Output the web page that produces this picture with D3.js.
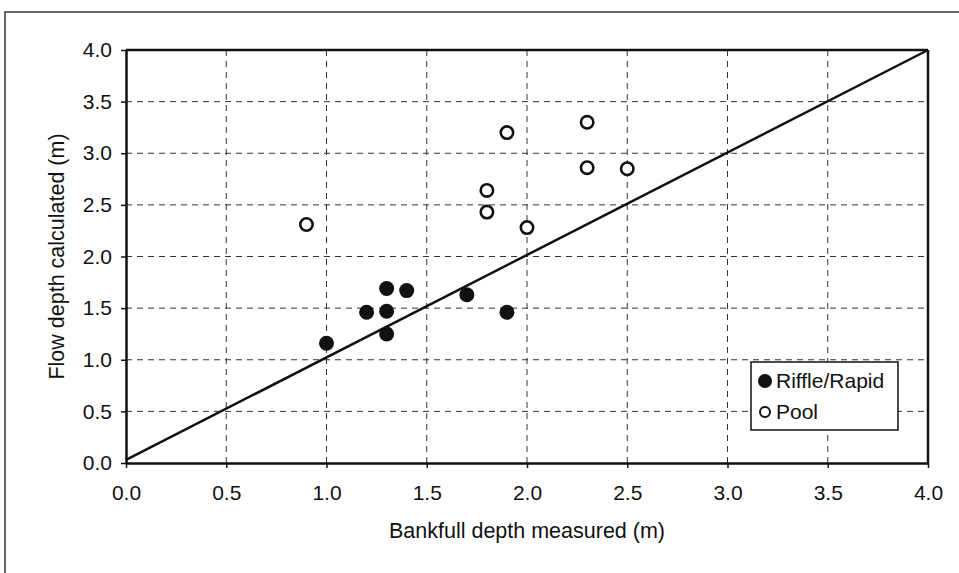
<!DOCTYPE html>
<html><head><meta charset="utf-8">
<script src="https://cdn.jsdelivr.net/npm/d3@7"></script>
<style>body{margin:0;background:#fff;} svg{display:block;font-family:"Liberation Sans",Arial,sans-serif;}</style>
</head><body>
<script>
const riffleX = [1.0, 1.2, 1.3, 1.3, 1.3, 1.4, 1.7, 1.9];
const riffleY = [1.16, 1.46, 1.69, 1.47, 1.25, 1.67, 1.63, 1.46];
const poolX = [0.9, 1.8, 1.8, 1.9, 2.0, 2.3, 2.3, 2.5];
const poolY = [2.31, 2.64, 2.43, 3.20, 2.28, 3.30, 2.86, 2.85];
const lineX = [0.0, 4.0];
const lineY = [0.03, 4.0];
const xTicks = [0, 0.5, 1.0, 1.5, 2.0, 2.5, 3.0, 3.5, 4.0];
const yTicks = [0, 0.5, 1.0, 1.5, 2.0, 2.5, 3.0, 3.5, 4.0];
const seriesNames = ["Riffle/Rapid", "Pool"];
const xTitle = "Bankfull depth measured (m)";
const yTitle = "Flow depth calculated (m)";

const W = 959, H = 573;
const FS = 21;
const TFS = 21.5;
const svg = d3.select("body").append("svg").attr("width", W).attr("height", H);
svg.append("rect").attr("x", 5).attr("y", 12).attr("width", 1000).attr("height", 700)
  .attr("fill", "none").attr("stroke", "#333").attr("stroke-width", 1.5);

const L = 126, R = 928, T = 50, B = 463;
const x = d3.scaleLinear().domain([0, 4]).range([L, R]);
const y = d3.scaleLinear().domain([0, 4]).range([B, T]);

// grid
const g = svg.append("g");
g.selectAll(".vg").data(xTicks.slice(1, -1)).join("line")
  .attr("x1", d => x(d)).attr("x2", d => x(d)).attr("y1", T).attr("y2", B)
  .attr("stroke", "#333").attr("stroke-width", 1).attr("stroke-dasharray", "6,5");
g.selectAll(".hg").data(yTicks.slice(1, -1)).join("line")
  .attr("x1", L).attr("x2", R).attr("y1", d => y(d)).attr("y2", d => y(d))
  .attr("stroke", "#333").attr("stroke-width", 1).attr("stroke-dasharray", "6,5");

// axes
const xa = svg.append("g").attr("transform", `translate(0,${B})`)
  .call(d3.axisBottom(x).tickValues(xTicks).tickFormat(d3.format(".1f")).tickSize(5).tickSizeOuter(0));
const ya = svg.append("g").attr("transform", `translate(${L},0)`)
  .call(d3.axisLeft(y).tickValues(yTicks).tickFormat(d3.format(".1f")).tickSize(5).tickSizeOuter(0));
[xa, ya].forEach(a => {
  a.attr("font-size", FS).attr("font-family", "Liberation Sans, Arial, sans-serif");
  a.select(".domain").attr("stroke", "#111").attr("stroke-width", 2.5);
  a.selectAll(".tick line").attr("stroke", "#111").attr("stroke-width", 1.5);
  a.selectAll("text").attr("font-size", FS).attr("fill", "#111");
});
xa.selectAll("text").attr("y", 22);
ya.selectAll("text").attr("x", -14);
// top and right border
svg.append("line").attr("x1", L).attr("x2", R).attr("y1", T).attr("y2", T).attr("stroke", "#111").attr("stroke-width", 2.5);
svg.append("line").attr("x1", R).attr("x2", R).attr("y1", T).attr("y2", B).attr("stroke", "#111").attr("stroke-width", 2.5);

// 1:1 line
svg.append("line").attr("x1", x(lineX[0])).attr("y1", y(lineY[0])).attr("x2", x(lineX[1])).attr("y2", y(lineY[1]))
  .attr("stroke", "#111").attr("stroke-width", 2.5);

// points
svg.selectAll(".rp").data(riffleX.map((v, i) => [v, riffleY[i]])).join("circle")
  .attr("cx", d => x(d[0])).attr("cy", d => y(d[1])).attr("r", 7.5).attr("fill", "#111");
svg.selectAll(".pp").data(poolX.map((v, i) => [v, poolY[i]])).join("circle")
  .attr("cx", d => x(d[0])).attr("cy", d => y(d[1])).attr("r", 6.2).attr("fill", "#fff")
  .attr("stroke", "#111").attr("stroke-width", 2.6);

// titles
svg.append("text").attr("x", (L + R) / 2).attr("y", 538).attr("text-anchor", "middle")
  .attr("font-size", TFS).attr("fill", "#111").text(xTitle);
svg.append("text").attr("transform", `translate(64,${(T + B) / 2}) rotate(-90)`).attr("text-anchor", "middle")
  .attr("font-size", TFS).attr("fill", "#111").text(yTitle);

// legend
const lg = svg.append("g");
lg.append("rect").attr("x", 751).attr("y", 362).attr("width", 147).attr("height", 68)
  .attr("fill", "#fff").attr("stroke", "#111").attr("stroke-width", 1.5);
lg.append("circle").attr("cx", 765).attr("cy", 381).attr("r", 7).attr("fill", "#111");
lg.append("circle").attr("cx", 765).attr("cy", 412).attr("r", 5).attr("fill", "#fff").attr("stroke", "#111").attr("stroke-width", 2);
lg.append("text").attr("x", 776).attr("y", 388).attr("font-size", FS).attr("fill", "#111").text(seriesNames[0]);
lg.append("text").attr("x", 776).attr("y", 419).attr("font-size", FS).attr("fill", "#111").text(seriesNames[1]);
</script>
</body></html>
